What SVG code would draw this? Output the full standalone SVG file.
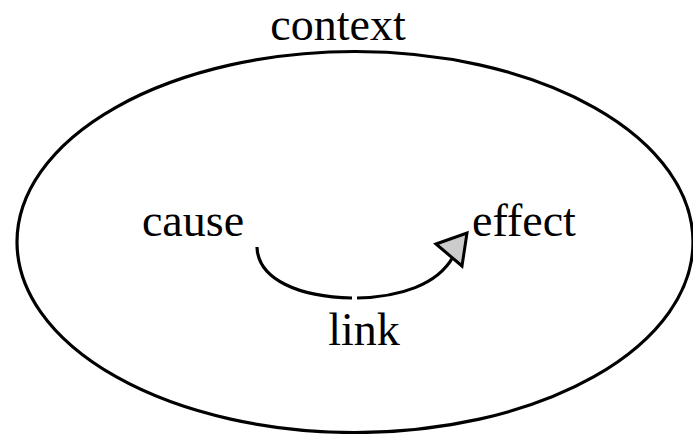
<svg xmlns="http://www.w3.org/2000/svg" width="693" height="434" viewBox="0 0 693 434">
  <style>
    .lbl { font-family: "Liberation Serif", "Times New Roman", serif; font-size: 46px; fill: #000; }
    .line { fill: none; stroke: #000; stroke-width: 3.2; }
  </style>
  <rect width="693" height="434" fill="#fff"/>
  <g id="context">
    <ellipse class="line" cx="355" cy="242" rx="338" ry="190.5"/>
    <text class="lbl" x="338" y="40" text-anchor="middle">context</text>
  </g>
  <g id="cause">
    <text class="lbl" x="193" y="236" text-anchor="middle">cause</text>
  </g>
  <g id="effect">
    <text class="lbl" x="472" y="236">effect</text>
  </g>
  <g id="connectors">
    <path class="line" d="M257,247 C258,280 300,297 352,298"/>
    <path class="line" d="M357,298 C400,297 437,285 453,257"/>
    <polygon points="436,244 467,233 462,266" fill="#ccc" stroke="#000" stroke-width="3" stroke-linejoin="miter"/>
  </g>
  <g id="link">
    <text class="lbl" x="364" y="345" text-anchor="middle">link</text>
  </g>
</svg>
